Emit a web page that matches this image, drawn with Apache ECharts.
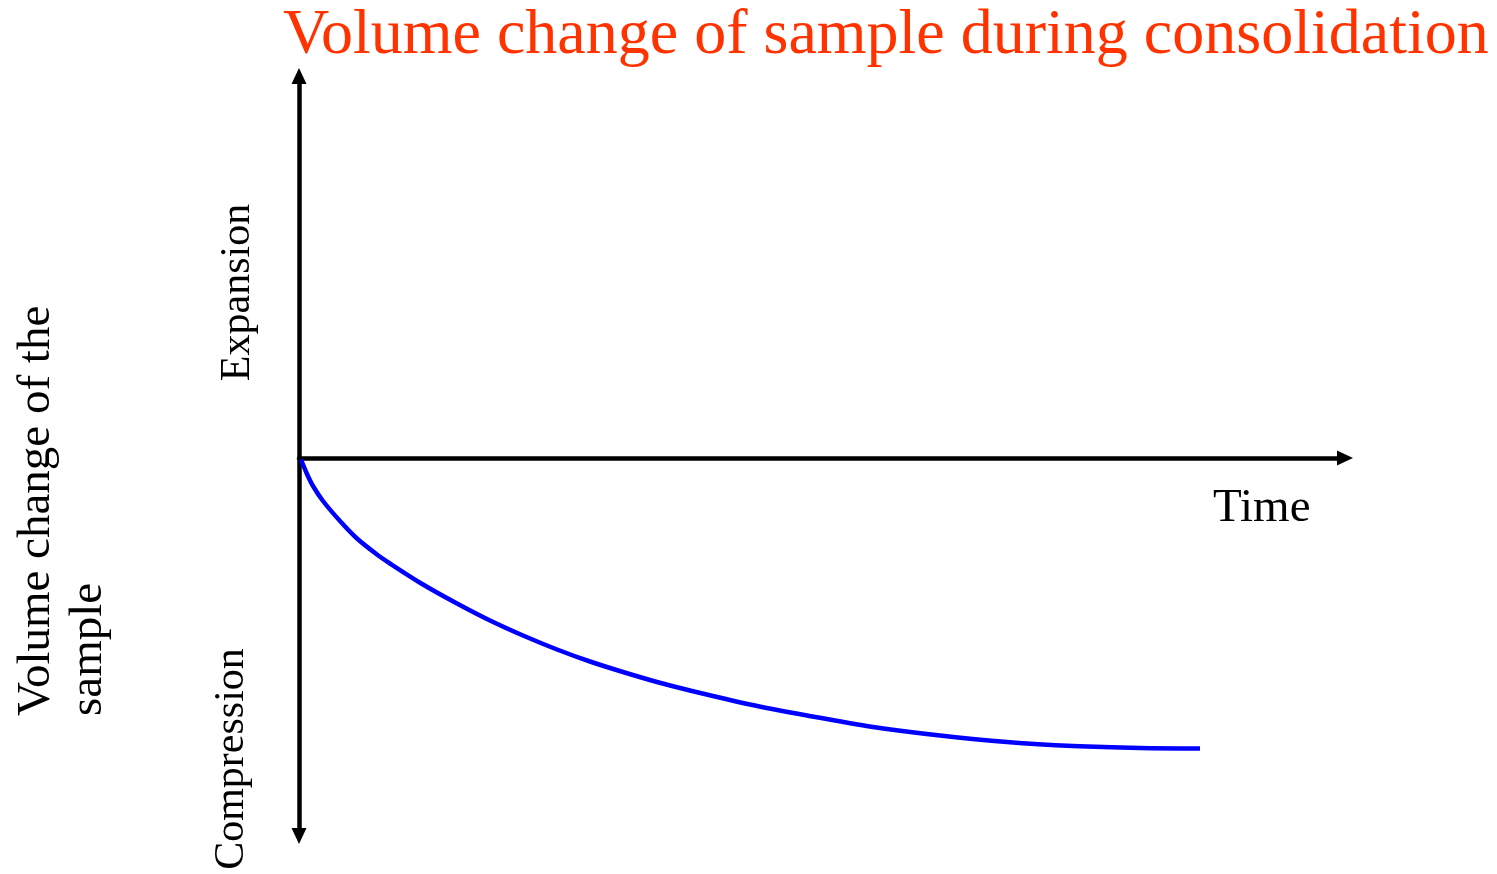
<!DOCTYPE html>
<html>
<head>
<meta charset="utf-8">
<script src="https://cdn.jsdelivr.net/npm/echarts@6/dist/echarts.min.js"></script>
<style>
html,body{margin:0;padding:0;background:#fff;}
#c{width:1497px;height:874px;}
</style>
</head>
<body>
<div id="c"></div>
<script>
// Time (arbitrary units from origin) and volume change (negative = compression)
const timeValues = [2, 8, 14, 24, 41, 58, 78, 91, 124, 158, 191, 224, 258, 291, 324, 358, 391, 451, 508, 574, 641, 708, 774, 841, 901];
const volumeChange = [-1.5, -16, -28, -43, -63, -80.5, -96.5, -105.5, -126.5, -145.5, -162.5, -177.5, -191.5, -203.5, -214, -224, -232.5, -246.5, -257.5, -269, -277.5, -284, -288, -290, -290.5];

const titleText = 'Volume change of sample during consolidation';
const xAxisLabel = 'Time';
const upLabel = 'Expansion';
const downLabel = 'Compression';
const yTitleLines = ['Volume change of the', 'sample'];

const serif = '"Liberation Serif", "Times New Roman", serif';
const curveData = timeValues.map((t, i) => [t, volumeChange[i]]);

const chart = echarts.init(document.getElementById('c'));
chart.setOption({
  animation: false,
  backgroundColor: '#ffffff',
  title: {
    text: titleText,
    left: 283,
    top: 4,
    padding: 0,
    textStyle: { fontFamily: serif, fontSize: 64, fontWeight: 'normal', color: '#FF3300' }
  },
  grid: { left: 299, right: 152, top: 76, bottom: 38, containLabel: false },
  xAxis: {
    type: 'value', min: 0, max: 1046,
    axisLine: { onZero: true, symbol: ['none', 'triangle'], symbolSize: [15, 16], lineStyle: { color: '#000', width: 4.5 } },
    axisTick: { show: false }, axisLabel: { show: false }, splitLine: { show: false }
  },
  yAxis: {
    type: 'value', min: -378, max: 382,
    axisLine: { show: true, onZero: true, symbol: ['triangle', 'triangle'], symbolSize: [15, 16], lineStyle: { color: '#000', width: 4.5 } },
    axisTick: { show: false }, axisLabel: { show: false }, splitLine: { show: false }
  },
  series: [{
    type: 'line',
    data: curveData,
    smooth: 0.3,
    showSymbol: false,
    lineStyle: { color: '#0000FF', width: 4.5 },
    z: 1
  }],
  graphic: [
    { type: 'text', x: 1213, y: 485, style: { text: xAxisLabel, font: '47px ' + serif, fill: '#000', align: 'left', verticalAlign: 'top' } },
    { type: 'text', x: 238, y: 292.5, rotation: Math.PI / 2, style: { text: upLabel, font: '42px ' + serif, fill: '#000', align: 'center', verticalAlign: 'middle' } },
    { type: 'text', x: 232, y: 759, rotation: Math.PI / 2, style: { text: downLabel, font: '42px ' + serif, fill: '#000', align: 'center', verticalAlign: 'middle' } },
    { type: 'text', x: 37, y: 716, rotation: Math.PI / 2, style: { text: yTitleLines[0], font: '47px ' + serif, fill: '#000', align: 'left', verticalAlign: 'middle' } },
    { type: 'text', x: 89, y: 716, rotation: Math.PI / 2, style: { text: yTitleLines[1], font: '47px ' + serif, fill: '#000', align: 'left', verticalAlign: 'middle' } }
  ]
});
</script>
</body>
</html>
